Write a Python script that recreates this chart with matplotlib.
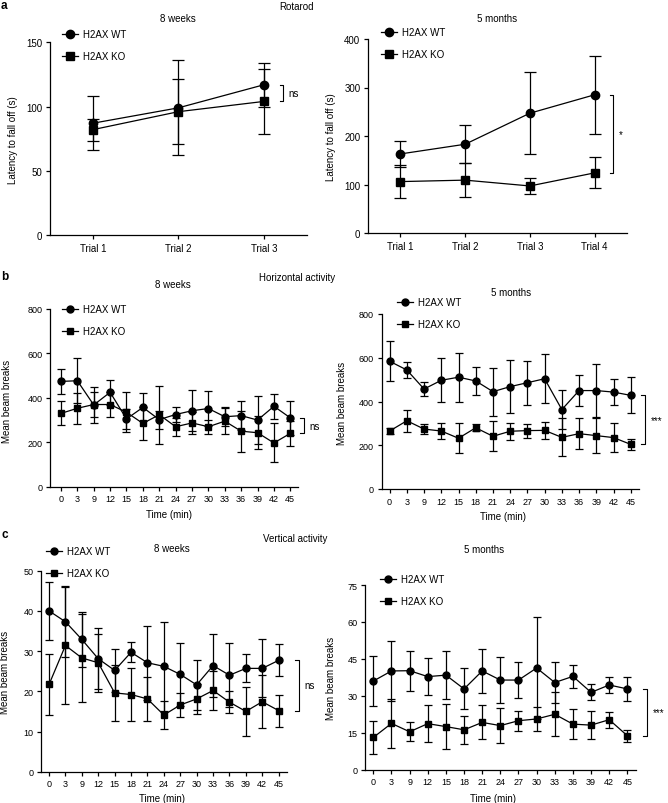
import numpy as np
import matplotlib
matplotlib.use('Agg')
import matplotlib.pyplot as plt
from matplotlib.lines import Line2D

plt.rcParams['font.family'] = ['Liberation Sans', 'DejaVu Sans']
plt.rcParams['axes.linewidth'] = 0.9

W, H = 668, 804

# ---- data ----
rot_8w_labels = ['Trial 1', 'Trial 2', 'Trial 3']
rot_8w_wt = [87, 99, 117]
rot_8w_wt_err = [21, 37, 17]
rot_8w_ko = [82, 96, 104]
rot_8w_ko_err = [8.5, 25.5, 25.5]

rot_5m_labels = ['Trial 1', 'Trial 2', 'Trial 3', 'Trial 4']
rot_5m_wt = [163, 183, 247, 285]
rot_5m_wt_err = [26, 39, 84, 80]
rot_5m_ko = [106, 109, 97, 124]
rot_5m_ko_err = [34, 35, 17, 32]

time_labels = ['0', '3', '9', '12', '15', '18', '21', '24', '27', '30', '33', '36', '39', '42', '45']

hor_8w_wt = [474, 477, 368, 425, 305, 357, 302, 325, 342, 352, 315, 320, 300, 362, 310]
hor_8w_wt_err = [57, 101, 80, 55, 45, 63, 40, 35, 92, 77, 42, 66, 110, 55, 77]
hor_8w_ko = [330, 353, 370, 370, 335, 285, 324, 270, 287, 270, 295, 250, 243, 197, 240]
hor_8w_ko_err = [54, 69, 58, 58, 90, 76, 131, 40, 50, 32, 58, 93, 75, 88, 55]

hor_5m_wt = [584, 544, 457, 497, 511, 494, 445, 468, 486, 504, 363, 450, 450, 443, 428]
hor_5m_wt_err = [91, 37, 33, 100, 112, 63, 110, 121, 100, 113, 90, 70, 120, 59, 82]
hor_5m_ko = [265, 312, 274, 265, 232, 280, 241, 264, 267, 268, 236, 253, 244, 235, 204]
hor_5m_ko_err = [12, 50, 23, 38, 68, 15, 68, 40, 32, 38, 87, 72, 80, 65, 25]

ver_8w_wt = [40.0, 37.3, 32.9, 28.1, 25.2, 29.7, 27.1, 26.2, 24.2, 21.6, 26.4, 24.0, 25.7, 25.7, 27.7]
ver_8w_wt_err = [7.2, 8.8, 6.9, 7.6, 5.4, 2.5, 9.2, 11.1, 7.8, 6.3, 7.8, 8.0, 3.5, 7.2, 4.0]
ver_8w_ko = [21.7, 31.4, 28.3, 27.1, 19.6, 19.2, 18.1, 14.1, 16.6, 18.1, 20.2, 17.3, 15.0, 17.4, 15.2]
ver_8w_ko_err = [7.5, 14.6, 11.0, 7.2, 6.9, 6.7, 5.4, 3.4, 3.0, 3.7, 4.8, 2.8, 6.0, 6.6, 4.0]

ver_5m_wt = [36.0, 40.1, 40.2, 37.8, 38.4, 32.8, 40.1, 36.4, 36.4, 41.3, 35.4, 37.9, 31.4, 34.4, 32.8]
ver_5m_wt_err = [10.0, 12.3, 8.2, 7.6, 9.6, 8.3, 8.8, 9.2, 7.3, 20.8, 8.4, 4.7, 3.3, 3.4, 5.0]
ver_5m_ko = [13.1, 18.8, 15.4, 18.7, 17.5, 16.2, 19.2, 17.9, 19.9, 20.6, 22.5, 18.5, 18.1, 20.3, 13.8]
ver_5m_ko_err = [6.8, 10.0, 3.9, 7.6, 9.0, 5.8, 6.9, 7.0, 4.0, 5.0, 9.0, 6.1, 5.7, 3.3, 2.4]

fig = plt.figure(figsize=(W / 100, H / 100), dpi=100)


def px_rect(x0, y0, x1, y1):
    return [x0 / W, 1 - y1 / H, (x1 - x0) / W, (y1 - y0) / H]


def ftext(x, y, s, **kw):
    fig.text(x / W, 1 - y / H, s, **kw)


def panel(rect, labels, wt, wt_err, ko, ko_err, ylim, yticks, xlim,
          cap, ms, sig, bx, btick, leg, tick_fs=6.5):
    ax = fig.add_axes(px_rect(*rect))
    x = np.arange(len(labels))
    ax.errorbar(x, wt, yerr=wt_err, fmt='-o', color='black', lw=0.9,
                elinewidth=0.9, capsize=cap, capthick=0.9, ms=ms, clip_on=False, zorder=3)
    ax.errorbar(x, ko, yerr=ko_err, fmt='-s', color='black', lw=0.9,
                elinewidth=0.9, capsize=cap, capthick=0.9, ms=ms, clip_on=False, zorder=3)
    ax.set_xlim(*xlim)
    ax.set_ylim(*ylim)
    ax.set_yticks(yticks)
    ax.set_xticks(x)
    ax.set_xticklabels(labels)
    for s in ['top', 'right']:
        ax.spines[s].set_visible(False)
    ax.tick_params(labelsize=tick_fs, length=3, width=0.9, pad=2.5)
    # significance bracket between last WT and KO means
    y1, y2 = wt[-1], ko[-1]
    ax.plot([bx - btick, bx, bx, bx - btick], [y1, y1, y2, y2], color='black',
            lw=0.8, clip_on=False)
    ax.annotate(sig, xy=(bx, (y1 + y2) / 2), xytext=(4, 0), textcoords='offset points',
                fontsize=7, va='center', ha='left', annotation_clip=False)
    hx, hy = leg
    handles = [Line2D([], [], color='black', marker='o', lw=0.9, ms=ms),
               Line2D([], [], color='black', marker='s', lw=0.9, ms=ms)]
    ax.legend(handles, ['H2AX WT', 'H2AX KO'], loc='upper left',
              bbox_to_anchor=(hx / W, 1 - hy / H), bbox_transform=fig.transFigure,
              frameon=False, fontsize=7, handlelength=1.6, handletextpad=0.6,
              labelspacing=1.25, borderpad=0, borderaxespad=0)
    return ax


# a: Rotarod
panel((50, 43.3, 307, 236), rot_8w_labels, rot_8w_wt, rot_8w_wt_err, rot_8w_ko, rot_8w_ko_err,
      (0, 150), [0, 50, 100, 150], (-0.5, 2.5), 4, 6, 'ns', 2.22, 0.04, (62, 30), tick_fs=7)
panel((368, 40, 627, 234), rot_5m_labels, rot_5m_wt, rot_5m_wt_err, rot_5m_ko, rot_5m_ko_err,
      (0, 400), [0, 100, 200, 300, 400], (-0.5, 3.5), 4, 6, '*', 3.29, 0.06, (381, 28), tick_fs=7)

# b: Horizontal activity
panel((50, 310, 298, 487.7), time_labels, hor_8w_wt, hor_8w_wt_err, hor_8w_ko, hor_8w_ko_err,
      (0, 800), [0, 200, 400, 600, 800], (-0.67, 14.47), 3, 5, 'ns', 14.85, 0.25, (62, 305))
panel((381.7, 315, 639, 490), time_labels, hor_5m_wt, hor_5m_wt_err, hor_5m_ko, hor_5m_ko_err,
      (0, 800), [0, 200, 400, 600, 800], (-0.46, 14.48), 3, 5, '***', 14.84, 0.25, (397, 298))

# c: Vertical activity
panel((41, 571.7, 286.7, 772.7), time_labels, ver_8w_wt, ver_8w_wt_err, ver_8w_ko, ver_8w_ko_err,
      (0, 50), [0, 10, 20, 30, 40, 50], (-0.49, 14.49), 3, 5, 'ns', 15.24, 0.25, (46, 547))
panel((365, 586, 635.7, 770.7), time_labels, ver_5m_wt, ver_5m_wt_err, ver_5m_ko, ver_5m_ko_err,
      (0, 75), [0, 15, 30, 45, 60, 75], (-0.46, 14.46), 3, 5, '***', 15.09, 0.25, (380, 575))

# panel letters and section titles
ftext(1, 0, 'a', fontsize=8.5, fontweight='bold', va='top', ha='left')
ftext(1, 277, 'b', fontsize=8.5, fontweight='bold', va='center', ha='left')
ftext(1, 535, 'c', fontsize=8.5, fontweight='bold', va='center', ha='left')
ftext(297, 7, 'Rotarod', fontsize=7, ha='center', va='center')
ftext(297, 278, 'Horizontal activity', fontsize=7, ha='center', va='center')
ftext(295, 539, 'Vertical activity', fontsize=7, ha='center', va='center')

# sub titles
ftext(178, 19, '8 weeks', fontsize=7, ha='center', va='center')
ftext(497, 19, '5 months', fontsize=7, ha='center', va='center')
ftext(173, 285, '8 weeks', fontsize=7, ha='center', va='center')
ftext(511, 293, '5 months', fontsize=7, ha='center', va='center')
ftext(172, 549, '8 weeks', fontsize=7, ha='center', va='center')
ftext(484, 550, '5 months', fontsize=7, ha='center', va='center')

# axis labels
ftext(13, 140, 'Latency to fall off (s)', fontsize=7, rotation=90, ha='center', va='center')
ftext(331, 137, 'Latency to fall off (s)', fontsize=7, rotation=90, ha='center', va='center')
ftext(7, 401, 'Mean beam breaks', fontsize=7, rotation=90, ha='center', va='center')
ftext(342, 403, 'Mean beam breaks', fontsize=7, rotation=90, ha='center', va='center')
ftext(5, 672, 'Mean beam breaks', fontsize=7, rotation=90, ha='center', va='center')
ftext(331, 678, 'Mean beam breaks', fontsize=7, rotation=90, ha='center', va='center')
ftext(169, 515, 'Time (min)', fontsize=7, ha='center', va='center')
ftext(503, 517, 'Time (min)', fontsize=7, ha='center', va='center')
ftext(162, 799, 'Time (min)', fontsize=7, ha='center', va='center')
ftext(493, 799, 'Time (min)', fontsize=7, ha='center', va='center')

fig.savefig('out.png', dpi=100)
